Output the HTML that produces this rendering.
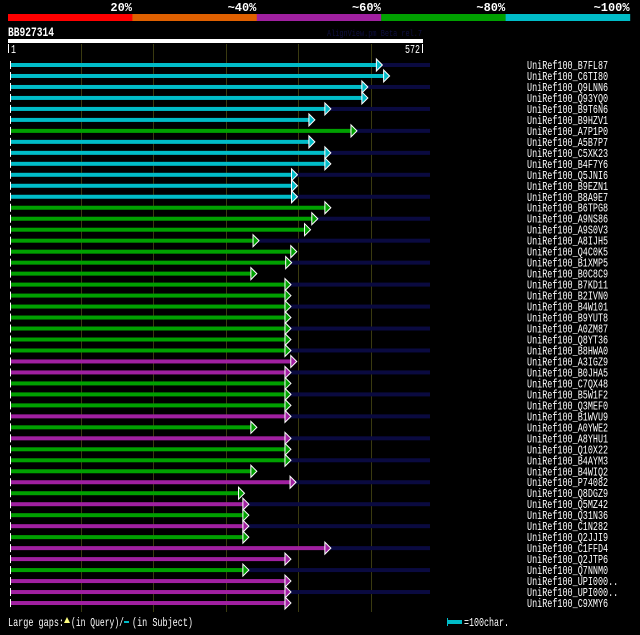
<!DOCTYPE html>
<html><head><meta charset="utf-8"><style>
body{margin:0;background:#000;width:640px;height:630px;overflow:hidden;font-family:"Liberation Mono","DejaVu Sans Mono",monospace;}
</style></head><body>
<svg id="c" width="640" height="630" xmlns="http://www.w3.org/2000/svg"></svg>
<script>
const names=["B7FL87","C6TI80","Q9LNN6","Q93YQ0","B9T6N6","B9HZV1","A7P1P0","A5B7P7","C5XK23","B4F7Y6","Q5JNI6","B9EZN1","B8A9E7","B6TPG8","A9NS86","A9S0V3","A8IJH5","Q4C0K5","B1XMP5","B0C8C9","B7KD11","B2IVN0","B4W101","B9YUT8","A0ZM87","Q8YT36","B8HWA0","A3IGZ9","B0JHA5","C7QX48","B5W1F2","Q3MEF0","B1WVU9","A0YWE2","A8YHU1","Q10X22","B4AYM3","B4WIQ2","P74082","Q8DGZ9","Q5MZ42","Q31N36","C1N282","Q2JJI9","C1FFD4","Q2JTP6","Q7NNM0","UPI000..","UPI000..","C9XMY6"];
const ends=[516,526,496,496,445,423,481,423,445,445,399,399,399,445,427,417,346,398,391,343,390,390,390,390,390,390,390,398,390,390,390,390,390,343,390,390,390,343,397,326,332,332,332,332,445,390,332,390,390,390];
const ident=["c","c","c","c","c","c","g","c","c","c","c","c","c","g","g","g","g","g","g","g","g","g","g","g","g","g","g","m","m","g","g","g","m","g","m","g","g","g","m","g","m","g","m","g","m","m","g","m","m","m"];
const ticks=["20%","~40%","~60%","~80%","~100%"];
const qLen=572;
const colMap={c:"#00bcc8",g:"#00a000",m:"#a020a0"};
const S="http://www.w3.org/2000/svg";
const svg=document.getElementById('c');
function xs(r){return 8+r*(415/qLen);}
function ys(i){return 65+i*10.98;}
function mk(t,a,p){const e=document.createElementNS(S,t);for(const k in a)e.setAttribute(k,a[k]);(p||svg).appendChild(e);return e;}
function txt(x,y,s,size,w,anchor,fill,bold){
 const a={x:x,y:y,fill:fill||'#fff','font-size':size,'text-anchor':anchor||'start'};
 if(w){a.textLength=w;a.lengthAdjust='spacingAndGlyphs';}
 if(bold)a['font-weight']='bold';
 const t=mk('text',a);t.textContent=s;return t;
}
const bc=["#ff0000","#e06000","#a020a0","#00a000","#00bcc8"];
for(let i=0;i<5;i++){
 const r=mk('rect',{x:8+i*124.4,y:14,width:124.6,height:7,fill:bc[i]});
 
 
 const t=txt(132+i*124.4,11,ticks[i],'12',null,'end','#fff',true);
 
 
}
let t=txt(8,36,"BB927314",'13',46,'start','#fff',true);

t=txt(422,36,"AlignView.pm Beta rel.7",'9',95,'end','#101040');

let q=mk('rect',{x:8,y:39,width:415,height:4,fill:'#fff'});

mk('rect',{x:8,y:44,width:1,height:9,fill:'#fff'});mk('rect',{x:422,y:44,width:1,height:9,fill:'#fff'});
t=txt(11,53,"1",'12',5);

t=txt(420,53,"572",'12',15,'end');

for(let r=100;r<qLen;r+=100){const g=mk('rect',{x:Math.round(xs(r)),y:44,width:1,height:568,fill:'#3a3a10'});
 }
for(let i=0;i<names.length;i++){
 const y=ys(i);
 const ex=xs(ends[i])-6;
 if(i%2===0){const n=mk('rect',{x:ex,y:y-2,width:430-ex,height:4,fill:'#0a0a40'});
  }
 const b=mk('rect',{x:10,y:y-2,width:ex-10,height:4,fill:colMap[ident[i]]});
 
 mk('rect',{x:10,y:y-4,width:1,height:8,fill:'#fff'});
 const a=mk('polygon',{points:`${ex},${y-6} ${ex+6},${y} ${ex},${y+6}`,fill:colMap[ident[i]],stroke:'#fff','stroke-width':'1'});
 
 const s="UniRef100_"+names[i];
 const l=txt(527,y+4,s,'12',s.length*5.07);
 
}
t=txt(8,626,"Large gaps:",'12',56);

mk('polygon',{points:'67,617 70,623 64,623',fill:'#ffff80'});
t=txt(71,626,"(in Query)/",'12',53);

mk('rect',{x:124,y:621,width:5,height:2,fill:'#00bcc8'});
t=txt(132,626,"(in Subject)",'12',61);

mk('rect',{x:448,y:620,width:14,height:4,fill:'#00bcc8'});
mk('rect',{x:447,y:618,width:1,height:8,fill:'#00bcc8'});
t=txt(464,626,"=100char.",'12',45);

</script>
</body></html>
